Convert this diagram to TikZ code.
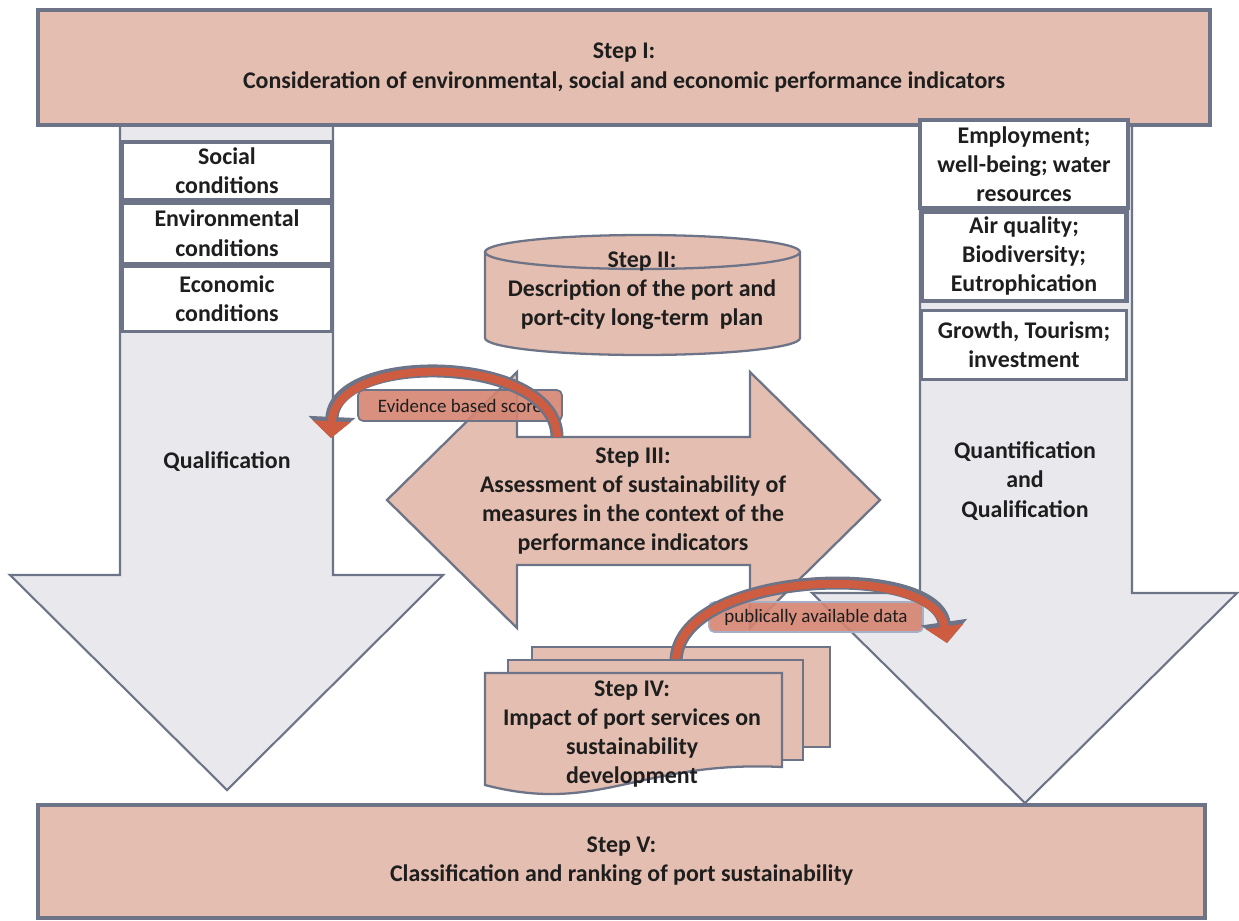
\documentclass[tikz,border=0pt]{standalone}
\usepackage{fontspec}
\setmainfont{Carlito}
\usetikzlibrary{arrows.meta, positioning}
\definecolor{edgegray}{RGB}{110,116,135}
\definecolor{stepfill}{RGB}{228,190,176}
\definecolor{shaftfill}{RGB}{233,233,237}
\definecolor{arcred}{RGB}{205,92,64}
\definecolor{tagfill}{RGB}{213,132,112}
\definecolor{tagedge}{RGB}{165,175,200}
\definecolor{ink}{RGB}{30,30,30}
\newcommand{\steptext}{\fontsize{13.6}{16.6}\selectfont\bfseries}
\tikzset{
  stepbox/.style={rectangle, draw=edgegray, fill=stepfill, line width=2.3pt,
    align=center, font=\steptext, text=ink, inner sep=0pt},
  condbox/.style={rectangle, draw=edgegray, fill=white, line width=1.8pt,
    align=center, font=\steptext, text=ink, inner sep=0pt},
  bigarrow/.style={draw=edgegray, fill=shaftfill, line width=1.2pt},
  stepshape/.style={draw=edgegray, fill=stepfill, line width=1.3pt},
  steplabel/.style={align=center, font=\steptext, text=ink, inner sep=0pt},
  tag/.style={rectangle, rounded corners=3pt, draw=edgegray, fill=tagfill,
    fill opacity=0.9, text opacity=1, line width=1pt, text=ink,
    font=\fontsize{10.8}{12}\selectfont, inner sep=0pt},
  arcback/.style={draw=edgegray, line width=7.4pt,
    -{Triangle[length=12pt, width=26pt]}},
  arcfront/.style={draw=arcred, line width=4.6pt,
    -{Triangle[length=9.5pt, width=21pt]}},
}
\begin{document}
\begin{tikzpicture}[x=0.02cm, y=-0.02cm]
  \useasboundingbox (0,0) rectangle (1239,920);

  \draw[bigarrow] (120,125) -- (333,125) -- (333,575) -- (443,575)
    -- (227,790) -- (10,575) -- (120,575) -- cycle;
  \draw[bigarrow] (920,118) -- (1132,118) -- (1132,593) -- (1237,593)
    -- (1025,803) -- (812,593) -- (920,593) -- cycle;

  \node[stepbox, minimum width=23.44cm, minimum height=2.3cm] (step1) at (624,67.5)
    {Step I:\\Consideration of environmental, social and economic performance indicators};
  \node[stepbox, minimum width=23.34cm, minimum height=2.26cm] (step5) at (621.5,861.5)
    {Step V:\\Classification and ranking of port sustainability};

  \node[condbox, minimum width=4.2cm, minimum height=1.16cm] (social) at (227,171)
    {Social\\conditions};
  \node[condbox, minimum width=4.2cm, minimum height=1.2cm, below=0pt of social] (environ)
    {Environmental\\conditions};
  \node[condbox, minimum width=4.2cm, minimum height=1.3cm, below=0pt of environ] (econ)
    {Economic\\conditions};

  \node[condbox, minimum width=4.16cm, minimum height=1.76cm] (employ) at (1024,164)
    {Employment;\\well-being; water\\resources};
  \node[condbox, minimum width=4.1cm, minimum height=1.78cm, line width=2.4pt,
    below=0pt of employ] (air) {Air quality;\\Biodiversity;\\Eutrophication};
  \node[condbox, minimum width=4.1cm, minimum height=1.38cm, below=0.12cm of air] (growth)
    {Growth, Tourism;\\investment};

  \node[steplabel] (qual) at (227,462) {Qualification};
  \node[steplabel] (quant) at (1025,481) {Quantification\\and\\Qualification};

  \filldraw[stepshape] (485,252) -- (485,338) arc[start angle=180, end angle=0,
    x radius=157.5, y radius=17] -- (800,252) arc[start angle=0, end angle=-180,
    x radius=157.5, y radius=17] -- cycle;
  \draw[stepshape, fill=none] (485,252) arc[start angle=180, end angle=0,
    x radius=157.5, y radius=17];
  \node[steplabel] (step2) at (642,291)
    {Step II:\\Description of the port and\\port-city long-term\ \ plan};

  \filldraw[stepshape] (387,500) -- (517,372) -- (517,437) -- (750,437) -- (750,372)
    -- (880,500) -- (750,628) -- (750,565) -- (517,565) -- (517,628) -- cycle;
  \node[steplabel] (step3) at (633,501)
    {Step III:\\Assessment of sustainability of\\measures in the context of the\\performance indicators};

  \node[tag, minimum width=4.08cm, minimum height=0.62cm] (evidence) at (460,405.5)
    {Evidence based score};
  \coordinate (evfrom) at (557,437);
  \coordinate (evto) at (331,438);
  \draw[arcback] (evfrom) .. controls (557,355) and (335,350) .. (evto);
  \draw[arcfront] (evfrom) .. controls (557,355) and (335,350) .. (evto);

  \filldraw[stepshape] (532,647) rectangle (830,747);
  \node[tag, draw=tagedge, minimum width=4.28cm, minimum height=0.6cm] (public) at (816,617)
    {publically available data};
  \coordinate (pubfrom) at (676,662);
  \coordinate (pubto) at (947,643);
  \draw[arcback] (pubfrom) .. controls (676,570) and (935,560) .. (pubto);
  \draw[arcfront] (pubfrom) .. controls (676,570) and (935,560) .. (pubto);
  \filldraw[stepshape] (508,660) rectangle (803,760);
  \filldraw[stepshape] (485,673) -- (782,673) -- (782,767)
    .. controls (640,760) and (600,815) .. (485,785) -- cycle;
  \node[steplabel] (step4) at (632,734)
    {Step IV:\\Impact of port services on\\sustainability\\development};
\end{tikzpicture}
\end{document}
